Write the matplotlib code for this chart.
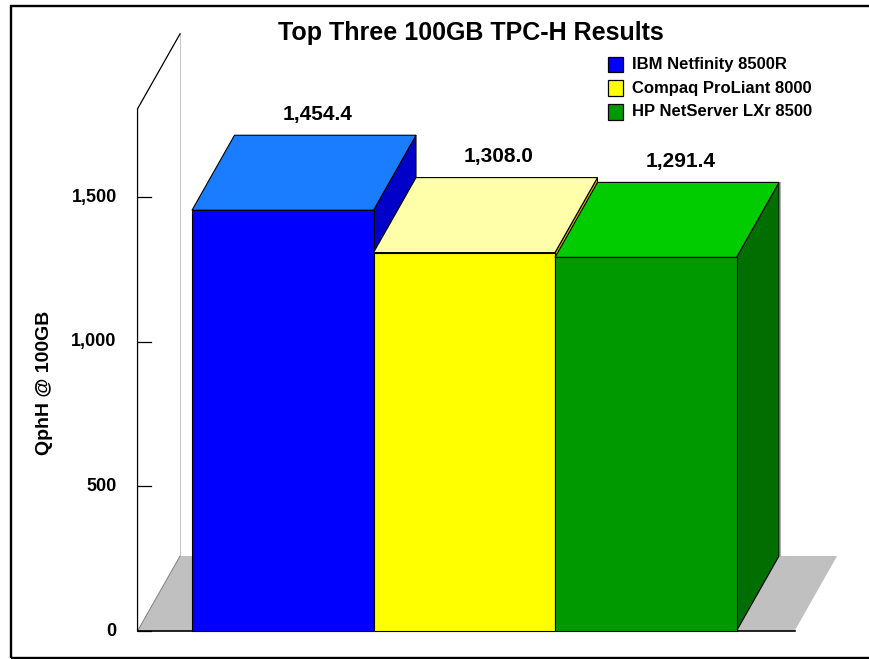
import matplotlib
matplotlib.use("Agg")
import matplotlib.pyplot as plt
from matplotlib.patches import Polygon, Rectangle

# ---- data ----
systems = ["IBM Netfinity 8500R", "Compaq ProLiant 8000", "HP NetServer LXr 8500"]
qphh = [1454.4, 1308.0, 1291.4]
value_labels = ["1,454.4", "1,308.0", "1,291.4"]
yticks = [0, 500, 1000, 1500]
ytick_labels = ["0", "500", "1,000", "1,500"]
title = "Top Three 100GB TPC-H Results"
ylabel = "QphH @ 100GB"

front_colors = ["#0000FF", "#FFFF00", "#009900"]
top_colors = ["#1A7CFF", "#FFFFAA", "#00CC00"]
side_colors = ["#0000C8", "#E0A800", "#006E00"]

plt.rcParams['font.family'] = ['Liberation Sans', 'DejaVu Sans']

W, H = 870, 659
fig = plt.figure(figsize=(W / 100, H / 100), dpi=100)
ax = fig.add_axes([0, 0, 1, 1])
ax.set_axis_off()

# pixel mapping: x_pix = X0 + XU * x ; y_pix(top) = Y0 - YU * v
X0, XU = 282.75, 181.5
Y0, YU = 631.0, 0.2893
ax.set_xlim((0 - X0) / XU, (W - X0) / XU)
ax.set_ylim((Y0 - H) / YU, Y0 / YU)

dx = 42.5 / XU          # depth offset (x units)
dy = 75.0 / YU          # depth offset (value units)
floor_l, floor_r = -0.8, 2.82
vtop = 1805

# floor
ax.add_patch(Polygon([(floor_l, 0), (floor_l + dx, dy), (floor_r + dx, dy), (floor_r, 0)],
                     closed=True, facecolor="#C0C0C0", edgecolor="none", zorder=1))
# left wall edges
ax.plot([floor_l + dx, floor_l + dx], [dy, vtop + dy], color="#C8C8C8", lw=0.8, zorder=1.5)
ax.plot([floor_l, floor_l + dx], [0, dy], color="#808080", lw=0.7, zorder=1.5)
ax.plot([floor_l, floor_l, floor_l + dx], [0, vtop, vtop + dy], color="black", lw=0.9, zorder=2)
ax.plot([floor_l, floor_r], [0, 0], color="black", lw=1.2, zorder=2)

# ticks
for t, lab in zip(yticks, ytick_labels):
    ax.plot([floor_l, floor_l + 13.4 / XU], [t, t], color="black", lw=0.9, zorder=2)
    ax.text((116.7 - X0) / XU, t, lab, ha="right", va="center",
            fontsize=13, fontweight="bold", zorder=5)

# bars
for i, v in enumerate(qphh):
    l, r = i - 0.5, i + 0.5
    z = 3 + i
    ax.add_patch(Polygon([(r, 0), (r + dx, dy), (r + dx, v + dy), (r, v)], closed=True,
                         facecolor=side_colors[i], edgecolor="black", lw=0.8, zorder=z))
    ax.add_patch(Polygon([(l, v), (l + dx, v + dy), (r + dx, v + dy), (r, v)], closed=True,
                         facecolor=top_colors[i], edgecolor="black", lw=0.8, zorder=z))
    ax.bar(i, v, width=1.0, bottom=0, color=front_colors[i], edgecolor="black",
           linewidth=0.8, zorder=z)
    ax.text(i + 0.19, v + dy + 73, value_labels[i], ha="center", va="center",
            fontsize=15, fontweight="bold", zorder=10)

# light edge at the back-right of the last bar's side face
last = len(qphh) - 1
ax.plot([last + 0.5 + dx + 1.2 / XU] * 2, [dy, qphh[last] + dy], color="#B0B0B0",
        lw=0.8, zorder=2.5)

# y label
ax.text((44 - X0) / XU, (Y0 - 383) / YU, ylabel, rotation=90, ha="center", va="center",
        fontsize=14, fontweight="bold")

# title
fig.text(470.5 / W, 1 - 33 / H, title, ha="center", va="center",
         fontsize=18, fontweight="bold")

# legend
for k, name in enumerate(systems):
    cy = 64.5 + 23.65 * k
    fig.patches.append(Rectangle((607.7 / W, 1 - (cy + 7.8) / H), 15.6 / W, 15.6 / H,
                                 transform=fig.transFigure, facecolor=front_colors[k],
                                 edgecolor="black", lw=0.9))
    fig.text(632 / W, 1 - cy / H, name, ha="left", va="center",
             fontsize=12, fontweight="bold")

# outer frame
fig.patches.append(Rectangle((11 / W, 1 - 658 / H), (880 - 11) / W, (658 - 6) / H,
                             transform=fig.transFigure, facecolor="none",
                             edgecolor="black", lw=1.7))

fig.savefig("out.png", dpi=100)
